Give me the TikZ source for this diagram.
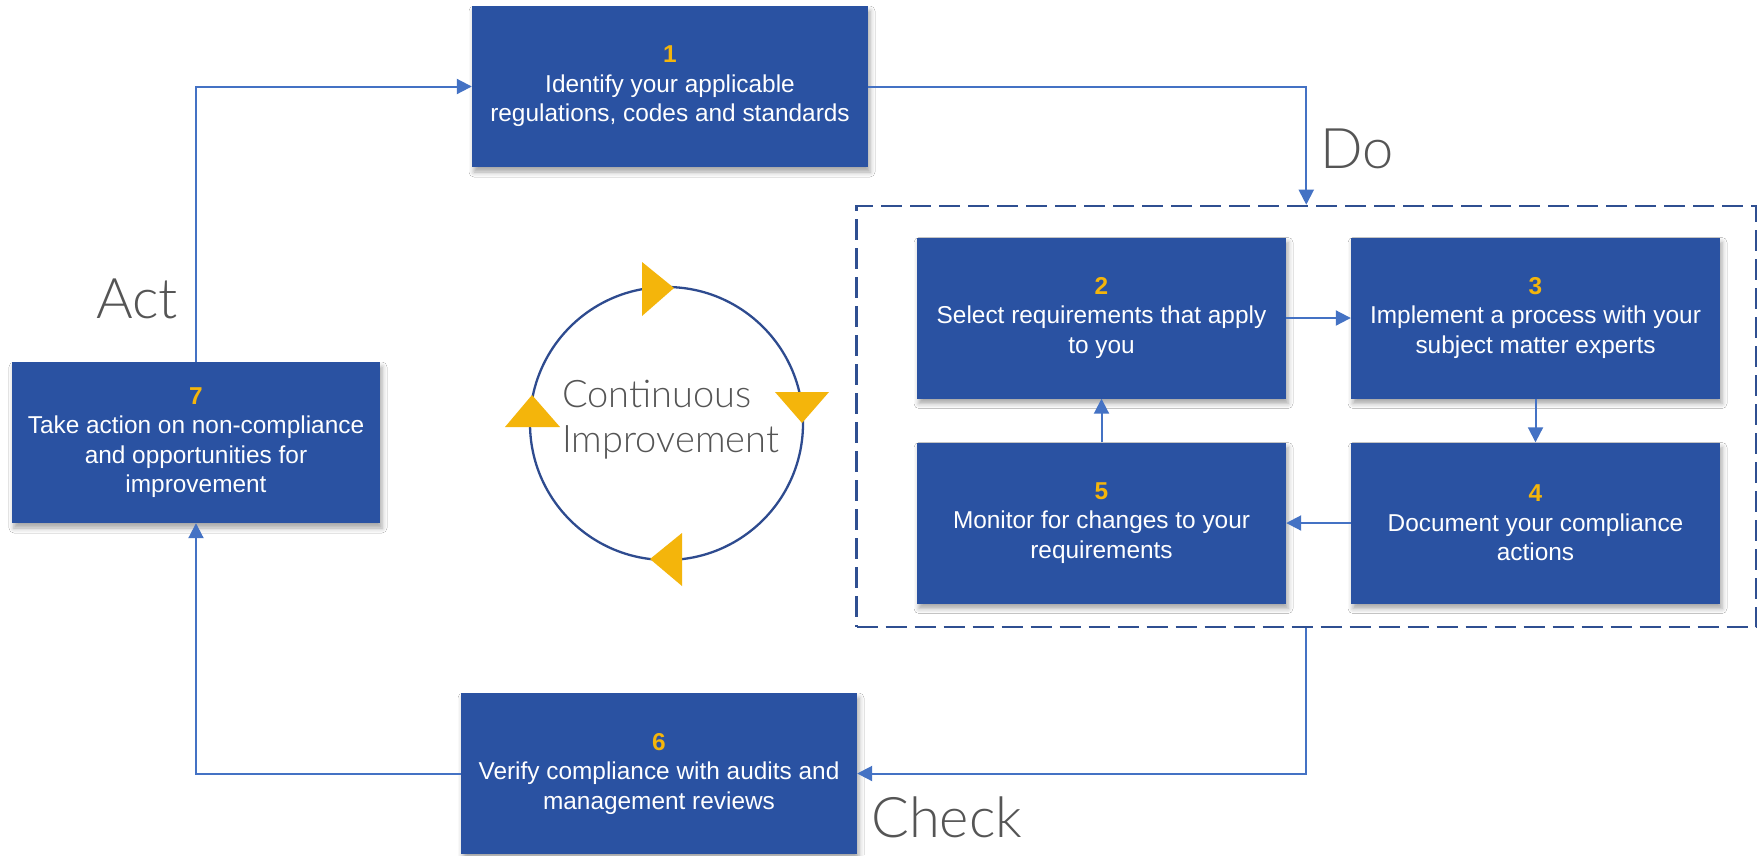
\documentclass[tikz,border=0pt]{standalone}
\usepackage{fontspec}
\setmainfont{Liberation Sans}
\IfFontExistsTF{Lato Light}{\newfontfamily\lightfont{Lato Light}}{%
  \IfFontExistsTF{Open Sans Light}{\newfontfamily\lightfont{Open Sans Light}}{\newfontfamily\lightfont{Lato}}}
\usetikzlibrary{arrows.meta,shadows.blur}
\definecolor{boxblue}{HTML}{2A52A2}
\definecolor{numyel}{HTML}{F4B50B}
\definecolor{connblue}{HTML}{4472C4}
\definecolor{dashblue}{HTML}{2F4F91}
\definecolor{circblue}{HTML}{2E4B8F}
\definecolor{labelgray}{HTML}{555555}
\newcommand\stepnum[1]{{\bfseries\color{numyel}#1}\\}
\tikzset{
  stepbox/.style={fill=boxblue, text=white, minimum width=369pt, minimum height=161pt,
    inner sep=0pt, align=center, font=\fontsize{24.4}{29.5}\selectfont,
    blur shadow={shadow xshift=2pt, shadow yshift=-5pt, shadow blur radius=5pt, shadow opacity=35}},
  widebox/.style={stepbox, minimum width=396pt},
  conn/.style={draw=connblue, line width=2pt, -{Triangle[length=15pt,width=15pt]}},
  grpbox/.style={draw=dashblue, line width=2.6pt, dash pattern=on 21pt off 8pt, inner sep=0pt,
    minimum width=899.5pt, minimum height=421pt},
  lbl/.style={font=\lightfont\fontsize{56}{60}\selectfont, text=labelgray, inner sep=0pt},
  cilbl/.style={font=\lightfont\fontsize{38}{45}\selectfont, text=labelgray, inner sep=0pt},
  tri/.style={fill=numyel, draw=none}
}
\begin{document}
\begin{tikzpicture}[x=1pt,y=-1pt]
\useasboundingbox (0,0) rectangle (1760,855);
\fill[white] (0,0) rectangle (1760,855);

% group
\node[grpbox] (grp) at (1306.25,416.5) {};

% boxes
\node[widebox] (b1) at (670,86.5) {\stepnum{1}Identify your applicable\\regulations, codes and standards};
\node[stepbox] (b2) at (1101.5,318) {\stepnum{2}Select requirements that apply\\to you};
\node[stepbox] (b3) at (1535.5,318) {\stepnum{3}Implement a process with your\\subject matter experts};
\node[stepbox] (b4) at (1535.5,523) {\stepnum{4}Document your compliance\\actions};
\node[stepbox] (b5) at (1101.5,523) {\stepnum{5}Monitor for changes to your\\requirements};
\node[widebox] (b6) at (659,773.5) {\stepnum{6}Verify compliance with audits and\\management reviews};
\node[stepbox, minimum width=368pt] (b7) at (196,442.5) {\stepnum{7}Take action on non-compliance\\and opportunities for\\improvement};

% connectors
\draw[conn] (b7.north) |- (b1.west);
\draw[conn] (b1.east) -| (grp.north);
\draw[conn] (grp.south) |- (b6.east);
\draw[conn] (b6.west) -| (b7.south);
\draw[conn] (b2.east) -- (b3.west);
\draw[conn] (b3.south) -- (b4.north);
\draw[conn] (b4.west) -- (b5.east);
\draw[conn] (b5.north) -- (b2.south);

% labels
\node[lbl, anchor=base west] (do) at (1320,168) {Do};
\node[lbl, anchor=base west] (act) at (96,318) {Act};
\node[lbl, anchor=base west] (check) at (871,837) {Check};

% continuous improvement cycle
\draw[circblue, line width=2.3pt] (666.5,423.5) circle[radius=136.5];
\fill[tri] (642,262) -- (642,316) -- (674,288) -- cycle;
\fill[tri] (775,392) -- (829,392) -- (802,423) -- cycle;
\fill[tri] (682,533) -- (682,586) -- (650,559) -- cycle;
\fill[tri] (532,395) -- (505,427) -- (560,427) -- cycle;
\node[cilbl, anchor=base west] (ci1) at (562,407) {Continuous};
\node[cilbl, anchor=base west] (ci2) at (562,452) {Improvement};
\end{tikzpicture}
\end{document}
